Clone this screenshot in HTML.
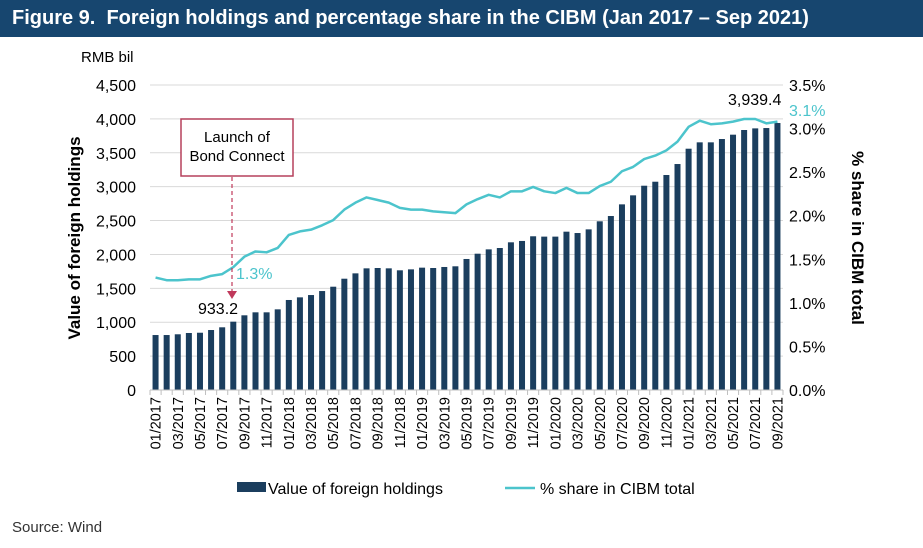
<!DOCTYPE html>
<html><head><meta charset="utf-8"><style>
body{margin:0;background:#fff;font-family:"Liberation Sans",Arial,sans-serif}
#hdr{position:absolute;left:0;top:0;width:923px;height:37px;background:#17466f;color:#fff;font-weight:bold;font-size:20px;line-height:37px;padding-left:12px;box-sizing:border-box}
</style></head><body>
<div id="hdr">Figure 9.&nbsp; Foreign holdings and percentage share in the CIBM (Jan 2017 – Sep 2021)</div>
<svg id="chart" width="923" height="548" style="position:absolute;left:0;top:0"></svg>
<script>
const holdings=[811,811,822,841,845,885,925,1008,1102,1146,1146,1190,1328,1367,1401,1460,1524,1642,1721,1795,1800,1795,1766,1780,1805,1800,1815,1825,1933,2011,2075,2095,2179,2199,2268,2263,2263,2336,2316,2370,2489,2567,2739,2872,3014,3073,3172,3334,3560,3654,3654,3703,3767,3836,3860,3865,3939.4];
const share=[1.29,1.26,1.26,1.27,1.27,1.31,1.33,1.41,1.53,1.59,1.58,1.63,1.78,1.82,1.84,1.89,1.95,2.07,2.15,2.21,2.18,2.15,2.09,2.07,2.07,2.05,2.04,2.03,2.13,2.19,2.24,2.21,2.28,2.28,2.33,2.28,2.26,2.32,2.26,2.26,2.34,2.39,2.51,2.56,2.65,2.69,2.75,2.85,3.02,3.09,3.05,3.06,3.08,3.11,3.11,3.06,3.08];
const leftTicks=["0","500","1,000","1,500","2,000","2,500","3,000","3,500","4,000","4,500"];
const rightTicks=["0.0%","0.5%","1.0%","1.5%","2.0%","2.5%","3.0%","3.5%"];
const NS="http://www.w3.org/2000/svg";
const svg=document.getElementById('chart');
function mk(t,a,txt){const e=document.createElementNS(NS,t);for(const k in a)e.setAttribute(k,a[k]);if(txt!==undefined)e.textContent=txt;svg.appendChild(e);return e;}
const y0=390,yTop=85,xL=150,xR=783;
const yL=v=>y0-(v/4500)*(y0-yTop);
const yR=v=>y0-(v/3.5)*(y0-yTop);
const step=(xR-xL)/holdings.length;
const xc=i=>xL+step*(i+0.5);
function monthLabel(i){const m=(i%12)+1,y=2017+Math.floor(i/12);return String(m).padStart(2,'0')+'/'+y;}
leftTicks.forEach((t,k)=>{const y=yL(k*500);
 if(k>0){let g=mk('line',{x1:xL,x2:xR,y1:y,y2:y,stroke:'#d9d9d9','stroke-width':1});}
 let e=mk('text',{x:136,y:y+6,'text-anchor':'end','font-size':16,fill:'#000'},t);
 });
rightTicks.forEach((t,k)=>{const y=yR(k*0.5);
 let e=mk('text',{x:789,y:y+6,'font-size':16,fill:'#000'},t);
 });
holdings.forEach((v,i)=>{let r=mk('rect',{x:xc(i)-3,y:yL(v),width:6,height:y0-yL(v),fill:'#1b3e5e'});
 });
let ax=mk('line',{x1:xL,x2:xR,y1:y0,y2:y0,stroke:'#bfbfbf','stroke-width':1});

for(let i=0;i<=holdings.length;i++){let t=mk('line',{x1:xL+step*i,x2:xL+step*i,y1:y0,y2:y0+5,stroke:'#bfbfbf'});}
holdings.forEach((v,i)=>{if(i%2)return;const x=xc(i)+5;
 let e=mk('text',{x:x,y:397,'text-anchor':'end','font-size':14.5,transform:`rotate(-90 ${x} 397)`},monthLabel(i));
 });
let p=mk('polyline',{points:share.map((v,i)=>xc(i)+','+yR(v)).join(' '),fill:'none',stroke:'#4cc4cc','stroke-width':2.5,'stroke-linejoin':'round'});

let ar=mk('line',{x1:232,x2:232,y1:177,y2:292,stroke:'#c0395b','stroke-width':1.2,'stroke-dasharray':'4,3'});
let ah=mk('polygon',{points:'227,291 237,291 232,299',fill:'#c0395b'});
let bx=mk('rect',{x:181,y:119,width:112,height:57,fill:'#fff',stroke:'#b5405c','stroke-width':1.5});
let t1=mk('text',{x:237,y:142,'text-anchor':'middle','font-size':15},'Launch of');
let t2=mk('text',{x:237,y:161,'text-anchor':'middle','font-size':15},'Bond Connect');
let l1=mk('text',{x:198,y:314,'font-size':16},'933.2');
let l2=mk('text',{x:236,y:279,'font-size':16,fill:'#4cc4cc'},'1.3%');
let l3=mk('text',{x:728,y:105,'font-size':16},'3,939.4');
let l4=mk('text',{x:789,y:116,'font-size':16,fill:'#4cc4cc'},'3.1%');
let u=mk('text',{x:81,y:62,'font-size':15},'RMB bil');
let yt=mk('text',{x:80,y:238,'text-anchor':'middle','font-size':17,'font-weight':'bold',transform:'rotate(-90 80 238)'},'Value of foreign holdings');
let yt2=mk('text',{x:852,y:238,'text-anchor':'middle','font-size':17,'font-weight':'bold',transform:'rotate(90 852 238)'},'% share in CIBM total');
let lg1=mk('rect',{x:237,y:482,width:29,height:10,fill:'#1b3e5e'});
let lt1=mk('text',{x:268,y:494,'font-size':16},'Value of foreign holdings');
let lg2=mk('line',{x1:505,x2:535,y1:488,y2:488,stroke:'#4cc4cc','stroke-width':2.5});
let lt2=mk('text',{x:540,y:494,'font-size':16},'% share in CIBM total');
let src=mk('text',{x:12,y:532,'font-size':15,fill:'#333'},'Source: Wind');
</script>
</body></html>
